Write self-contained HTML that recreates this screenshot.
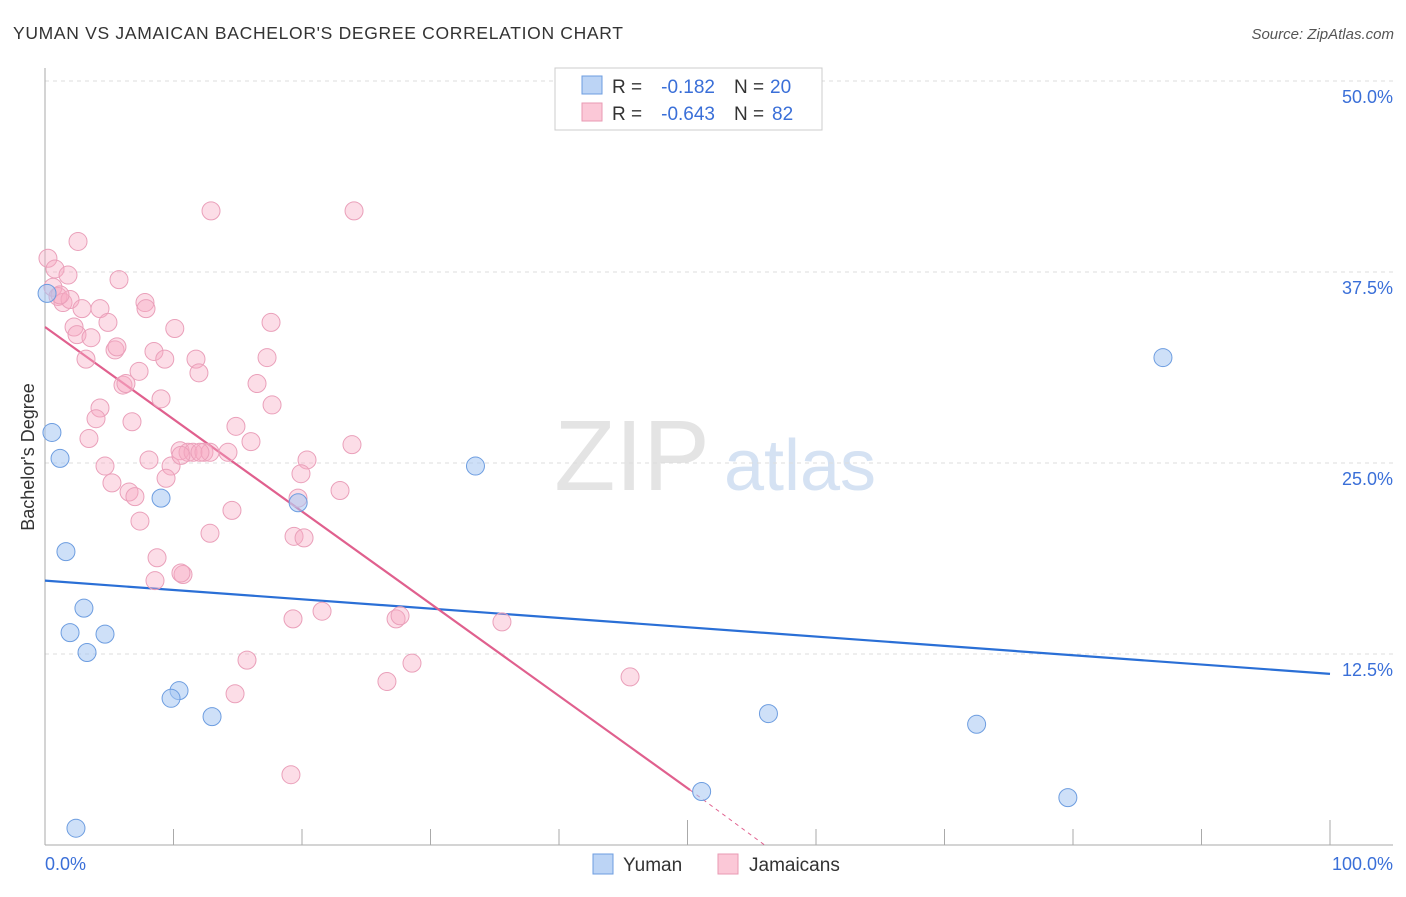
<!DOCTYPE html>
<html><head><meta charset="utf-8"><style>
body{margin:0;background:#fff;font-family:"Liberation Sans",sans-serif;}
svg text{font-family:"Liberation Sans",sans-serif;}
</style></head><body>
<svg id="chart" width="1406" height="892">
<text x="13" y="39" font-size="17.5" fill="#333" textLength="610">YUMAN VS JAMAICAN BACHELOR'S DEGREE CORRELATION CHART</text>
<text x="1394" y="39" font-size="15" fill="#555" font-style="italic" text-anchor="end">Source: ZipAtlas.com</text>
<g>
<text x="632" y="490" font-size="100" fill="#e4e4e4" font-family="Liberation Serif" text-anchor="middle">ZIP</text>
<text x="800" y="490" font-size="72" fill="#d5e2f3" text-anchor="middle">atlas</text>
</g>
<g id="grid"></g>
<g id="axes"></g>
<g id="lines"></g>
<g id="pts"></g>
<text transform="translate(34,457) rotate(-90)" font-size="18" fill="#333" text-anchor="middle">Bachelor's Degree</text>
<g>
<rect x="555" y="68" width="267" height="62" fill="#fff" stroke="#ccc"/>
<rect x="582" y="76" width="20" height="18" fill="#bcd4f5" stroke="#6d9de0"/>
<rect x="582" y="103" width="20" height="18" fill="#fbc8d7" stroke="#e89ab3"/>
<text x="612" y="93" font-size="19" fill="#333">R =</text>
<text x="715" y="93" font-size="19" fill="#3a6fd8" text-anchor="end">-0.182</text>
<text x="734" y="93" font-size="19" fill="#333">N =</text>
<text x="770" y="93" font-size="19" fill="#3a6fd8">20</text>
<text x="612" y="120" font-size="19" fill="#333">R =</text>
<text x="715" y="120" font-size="19" fill="#3a6fd8" text-anchor="end">-0.643</text>
<text x="734" y="120" font-size="19" fill="#333">N =</text>
<text x="772" y="120" font-size="19" fill="#3a6fd8">82</text>
</g>
<g>
<rect x="593" y="854" width="20" height="20" fill="#bcd4f5" stroke="#6d9de0"/>
<text x="623" y="871" font-size="19" fill="#333">Yuman</text>
<rect x="718" y="854" width="20" height="20" fill="#fbc8d7" stroke="#e89ab3"/>
<text x="749" y="871" font-size="19" fill="#333">Jamaicans</text>
</g>
</svg>
<script>
const yTicks=[12.5,25,37.5,50];
const yTickLabels=["12.5%","25.0%","37.5%","50.0%"];
const xTickLabels=["0.0%","100.0%"];
const yumanX=[0.16,0.54,1.17,1.63,3.03,1.95,4.67,3.27,9.03,10.43,9.81,13.0,33.5,19.7,2.41,51.1,56.3,72.5,79.6,87.0];
const yumanY=[36.1,27.0,25.3,19.2,15.5,13.9,13.8,12.6,22.7,10.1,9.6,8.4,24.8,22.4,1.1,3.5,8.6,7.9,3.1,31.9];
const jamX=[0.23,0.78,1.79,2.57,0.62,1.01,1.4,1.95,2.88,4.28,2.26,2.49,3.58,4.9,5.76,7.78,7.86,5.45,5.6,3.19,8.48,9.32,10.1,11.75,11.98,7.32,6.07,6.3,9.03,4.28,3.97,6.77,3.42,14.86,16.03,14.24,12.92,24.05,17.59,17.28,16.5,17.67,8.09,9.81,10.51,11.13,11.52,12.37,10.58,12.84,4.67,5.21,6.54,7.0,7.39,14.55,12.84,20.39,19.92,19.69,22.96,23.89,8.72,8.56,10.74,10.58,19.38,20.16,19.3,21.56,27.32,27.63,35.56,15.72,14.79,26.61,28.56,45.53,19.14,9.42,12.06,1.17];
const jamY=[38.4,37.7,37.3,39.5,36.5,35.9,35.5,35.7,35.1,35.1,33.9,33.4,33.2,34.2,37.0,35.5,35.1,32.4,32.6,31.8,32.3,31.8,33.8,31.8,30.9,31.0,30.1,30.2,29.2,28.6,27.9,27.7,26.6,27.4,26.4,25.7,41.5,41.5,34.2,31.9,30.2,28.8,25.2,24.8,25.8,25.7,25.7,25.7,25.5,25.7,24.8,23.7,23.1,22.8,21.2,21.9,20.4,25.2,24.3,22.7,23.2,26.2,18.8,17.3,17.7,17.8,20.2,20.1,14.8,15.3,14.8,15.0,14.6,12.1,9.9,10.7,11.9,11.0,4.6,24.0,25.7,36.0];
const yumanLine=[17.3,11.2];
const jamLine=[33.9,3.6,50.2,56];
const X=v=>45+v*12.85, Y=v=>845-v*15.28;
const NS="http://www.w3.org/2000/svg";
function mk(p,t,a){const e=document.createElementNS(NS,t);for(const k in a)e.setAttribute(k,a[k]);document.getElementById(p).appendChild(e);return e;}
yTicks.forEach((t,i)=>{
 const g=mk('grid','line',{x1:45,x2:1393,y1:Y(t),y2:Y(t),stroke:'#ddd','stroke-dasharray':'4,4'});
 
 
 const l=mk('grid','text',{x:1393,y:Y(t)+22,'font-size':18,fill:'#3a6fd8','text-anchor':'end'});
 l.textContent=yTickLabels[i];
 
 
});
const ya=mk('axes','line',{x1:45,x2:45,y1:68,y2:845,stroke:'#aaa'});


const xa=mk('axes','line',{x1:45,x2:1393,y1:845,y2:845,stroke:'#aaa'});


for(let i=0;i<=10;i++){const t=mk('axes','line',{x1:X(i*10),x2:X(i*10),y1:(i%5==0)?820:829,y2:845,stroke:'#aaa'});
 
 }
[[0,'start',45],[1,'end',1393]].forEach(([i,a,x])=>{const t=mk('axes','text',{x:x,y:870,'font-size':18,fill:'#3a6fd8','text-anchor':a});t.textContent=xTickLabels[i];
 
 });
const bl=mk('lines','line',{x1:X(0),y1:Y(yumanLine[0]),x2:X(100),y2:Y(yumanLine[1]),stroke:'#2a6fd6','stroke-width':2.2});


const pl=mk('lines','line',{x1:X(0),y1:Y(jamLine[0]),x2:X(jamLine[2]),y2:Y(jamLine[1]),stroke:'#e0608e','stroke-width':2.2});


const pd=mk('lines','line',{x1:X(jamLine[2]),y1:Y(jamLine[1]),x2:X(jamLine[3]),y2:Y(0),stroke:'#e0608e','stroke-width':1,'stroke-dasharray':'4,4'});


jamX.forEach((x,i)=>{const c=mk('pts','circle',{cx:X(x),cy:Y(jamY[i]),r:9,fill:'rgba(248,170,196,0.4)',stroke:'#eaa0ba','stroke-width':1});
 
 });
yumanX.forEach((x,i)=>{const c=mk('pts','circle',{cx:X(x),cy:Y(yumanY[i]),r:9,fill:'rgba(165,198,242,0.55)',stroke:'#6d9de0','stroke-width':1});
 
 });
</script>
</body></html>
